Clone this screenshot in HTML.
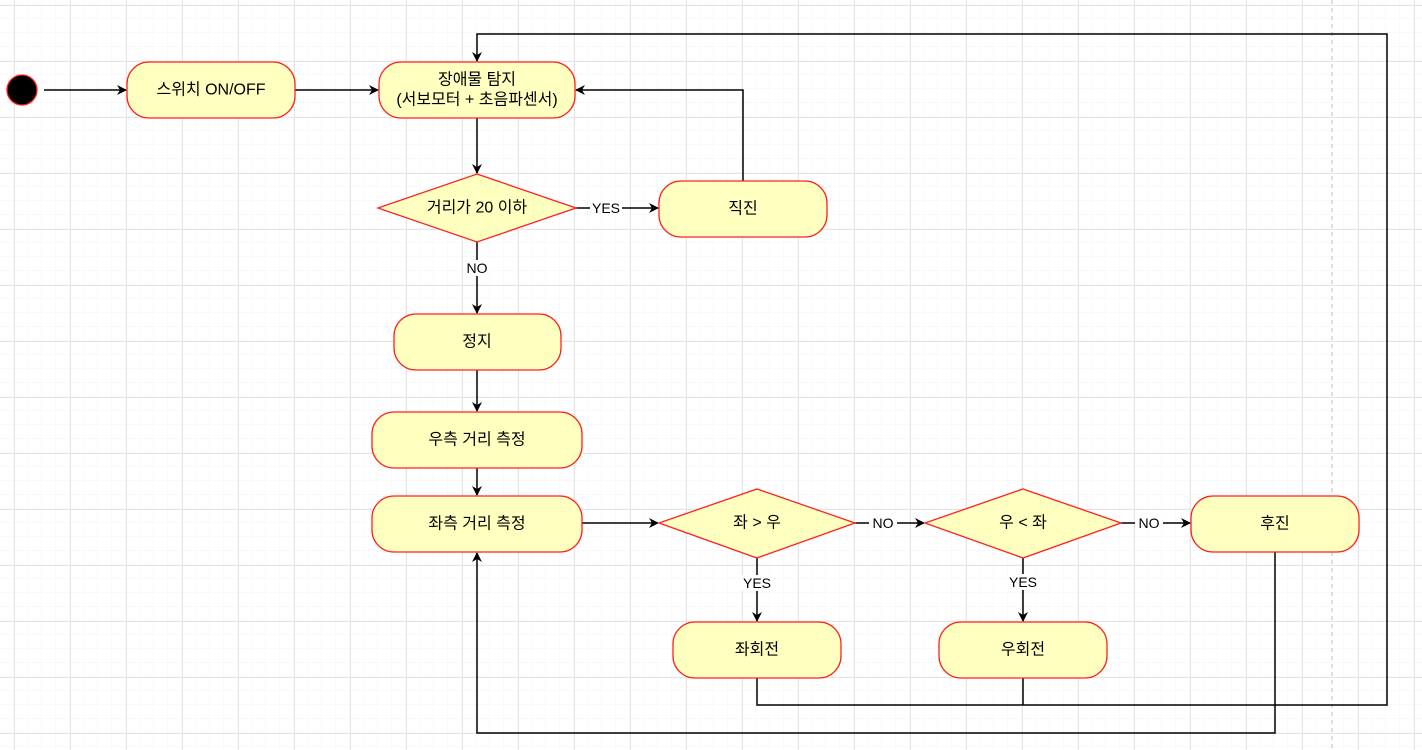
<!DOCTYPE html>
<html><head><meta charset="utf-8"><style>
html,body{margin:0;padding:0;background:#fff}
svg{display:block}
text{font-family:"Liberation Sans","Noto Sans CJK KR",sans-serif;font-size:16px;fill:#000;text-anchor:middle;dominant-baseline:central}
.l{font-size:14px}
</style></head><body>
<svg width="1422" height="750" xmlns="http://www.w3.org/2000/svg">
<defs>
<pattern id="minor" width="14" height="14" patternUnits="userSpaceOnUse" x="0" y="5">
<path d="M14 0V14M0 14H14" stroke="#f3f3f3" stroke-width="1" fill="none"/></pattern>
<pattern id="major" width="56" height="56" patternUnits="userSpaceOnUse" x="14" y="5">
<path d="M0.5 0V56M0 0.5H56" stroke="#e4e4e4" stroke-width="1" fill="none"/></pattern>
<marker id="a" markerWidth="10" markerHeight="10" refX="9" refY="5" orient="auto" markerUnits="userSpaceOnUse">
<path d="M0 0L10 5L0 10L3 5Z" fill="#000"/></marker>
</defs>
<rect width="1422" height="750" fill="url(#minor)"/>
<rect width="1422" height="750" fill="url(#major)"/>
<line x1="1332" y1="0" x2="1332" y2="750" stroke="#bbb" stroke-dasharray="4 4"/>
<g stroke="#000" stroke-width="1.5" fill="none">
<path d="M44 90H126" marker-end="url(#a)"/>
<path d="M295 90H378" marker-end="url(#a)"/>
<path d="M477 118V173" marker-end="url(#a)"/>
<path d="M576 208H658" marker-end="url(#a)"/>
<path d="M743 181V90H576" marker-end="url(#a)"/>
<path d="M477 242V313" marker-end="url(#a)"/>
<path d="M477 370V411" marker-end="url(#a)"/>
<path d="M477 468V495" marker-end="url(#a)"/>
<path d="M582 523H658" marker-end="url(#a)"/>
<path d="M855 523H924" marker-end="url(#a)"/>
<path d="M1121 523H1190" marker-end="url(#a)"/>
<path d="M757 558V621" marker-end="url(#a)"/>
<path d="M1023 558V621" marker-end="url(#a)"/>
<path d="M757 678V705H1387V34H477V61" marker-end="url(#a)"/>
<path d="M1023 678V705"/>
<path d="M1275 552V733H477V553" marker-end="url(#a)"/>
</g>
<g fill="#fff" stroke="none">
<rect x="590" y="200" width="32" height="16"/>
<rect x="463" y="260" width="28" height="16"/>
<rect x="741" y="575" width="32" height="16"/>
<rect x="869" y="515" width="28" height="16"/>
<rect x="1135" y="515" width="28" height="16"/>
<rect x="1007" y="574" width="32" height="16"/>
</g>
<text class="l" x="606" y="208">YES</text>
<text class="l" x="477" y="268">NO</text>
<text class="l" x="757" y="583">YES</text>
<text class="l" x="883" y="523">NO</text>
<text class="l" x="1149" y="523">NO</text>
<text class="l" x="1023" y="582">YES</text>
<g fill="#ffffc0" stroke="#ff2020" stroke-width="1.3">
<circle cx="22" cy="90" r="15" fill="#000"/>
<rect x="127" y="62" width="168" height="56" rx="22"/>
<rect x="379" y="62" width="196" height="56" rx="22"/>
<path d="M477 174L576 208L477 242L378 208Z"/>
<rect x="659" y="181" width="168" height="56" rx="22"/>
<rect x="394" y="314" width="167" height="56" rx="22"/>
<rect x="372" y="412" width="210" height="56" rx="22"/>
<rect x="372" y="496" width="210" height="56" rx="22"/>
<path d="M757 489L855 523L757 558L659 523Z"/>
<path d="M1023 489L1121 523L1023 558L925 523Z"/>
<rect x="1191" y="496" width="168" height="56" rx="22"/>
<rect x="673" y="622" width="168" height="56" rx="22"/>
<rect x="939" y="622" width="168" height="56" rx="22"/>
</g>
<text x="211" y="90">스위치 ON/OFF</text>
<text x="477" y="80">장애물 탐지</text>
<text x="477" y="100">(서보모터 + 초음파센서)</text>
<text x="477" y="208">거리가 20 이하</text>
<text x="743" y="209">직진</text>
<text x="477" y="342">정지</text>
<text x="477" y="440">우측 거리 측정</text>
<text x="477" y="524">좌측 거리 측정</text>
<text x="757" y="523">좌 &gt; 우</text>
<text x="1023" y="523">우 &lt; 좌</text>
<text x="1275" y="524">후진</text>
<text x="757" y="650">좌회전</text>
<text x="1023" y="650">우회전</text>
</svg>
</body></html>
